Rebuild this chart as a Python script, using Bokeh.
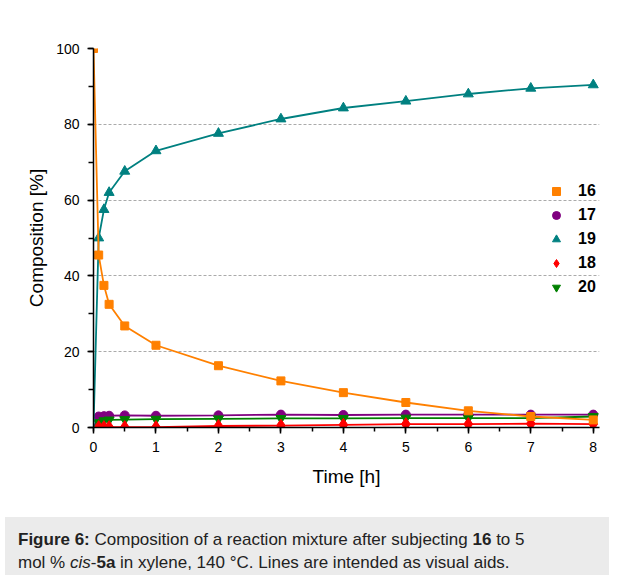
from bokeh.plotting import figure
from bokeh.models import (Range1d, SingleIntervalTicker, Legend, LegendItem, Div, Spacer,
                          ColumnDataSource)
from bokeh.layouts import column
from bokeh.embed import file_html
from bokeh.resources import INLINE

# ---- data ----
time_h = [0, 0.083, 0.167, 0.25, 0.5, 1, 2, 3, 4, 5, 6, 7, 8]
comp_16 = [100, 45.5, 37.5, 32.5, 26.8, 21.7, 16.3, 12.3, 9.2, 6.6, 4.4, 2.9, 2.0]
comp_17 = [0, 2.9, 3.0, 3.1, 3.2, 3.1, 3.2, 3.4, 3.3, 3.4, 3.4, 3.4, 3.4]
comp_19 = [0, 50.0, 57.5, 62.0, 67.6, 73.0, 77.6, 81.4, 84.3, 86.1, 88.0, 89.5, 90.4]
comp_18 = [0, 0.1, 0.1, 0.1, 0.1, 0.1, 0.4, 0.5, 0.7, 0.9, 0.9, 1.0, 0.9]
comp_20 = [0, 1.3, 1.8, 2.0, 2.1, 2.2, 2.3, 2.4, 2.4, 2.5, 2.5, 2.5, 2.9]
series_names = ["16", "17", "19", "18", "20"]
x_label = "Time [h]"
y_label = "Composition [%]"

FONT = "Liberation Sans"

p = figure(output_backend="svg", toolbar_location=None,
           width=604, height=504,
           min_border_left=93, min_border_right=5, min_border_top=40, min_border_bottom=85,
           x_range=Range1d(0, 8.1), y_range=Range1d(0, 100))
p.outline_line_color = None
p.background_fill_color = "white"
p.border_fill_color = "white"

p.xgrid.visible = False
p.ygrid.grid_line_color = "#aaaaaa"
p.ygrid.grid_line_dash = "3 2"
p.ygrid.grid_line_width = 1

p.xaxis.ticker = SingleIntervalTicker(interval=1, num_minor_ticks=2)
p.yaxis.ticker = SingleIntervalTicker(interval=20, num_minor_ticks=2)
for ax in (p.xaxis[0], p.yaxis[0]):
    ax.axis_line_color = "black"
    ax.axis_line_width = 1.5
    ax.major_tick_line_color = "black"
    ax.major_tick_line_width = 1.5
    ax.minor_tick_line_color = "black"
    ax.minor_tick_line_width = 1.5
    ax.major_tick_in = 0
    ax.minor_tick_in = 0
    ax.major_label_text_font = FONT
    ax.major_label_text_font_size = "14px"
    ax.major_label_text_color = "black"
    ax.axis_label_text_font = FONT
    ax.axis_label_text_font_size = "19px"
    ax.axis_label_text_font_style = "normal"
    ax.axis_label_text_color = "black"
p.xaxis.major_tick_out = 6
p.xaxis.minor_tick_out = 4
p.yaxis.major_tick_out = 6
p.yaxis.minor_tick_out = 5
p.xaxis.axis_label = x_label
p.yaxis.axis_label = y_label
p.xaxis.major_label_standoff = 8
p.yaxis.major_label_standoff = 8
p.xaxis.axis_label_standoff = 11
p.yaxis.axis_label_standoff = 6

LW = 1.8
# name: (values, colour, marker, size, first index with marker)
specs = {
    "16": (comp_16, "#ff8000", "square", 8, 0),
    "17": (comp_17, "#800080", "circle", 9, 1),
    "19": (comp_19, "#008080", "triangle", 10, 1),
    "18": (comp_18, "#ff0000", "diamond", 13, 1),
    "20": (comp_20, "#008000", "inverted_triangle", 10, 1),
}
draw_order = ["17", "20", "18", "19", "16"]
marker_r = {}
for name in draw_order:
    vals, col, mk, sz, start = specs[name]
    p.line(time_h, vals, line_color=col, line_width=LW)
    src = ColumnDataSource(dict(x=time_h[start:], y=vals[start:]))
    marker_r[name] = p.scatter("x", "y", source=src, marker=mk, size=sz,
                               fill_color=col, line_color=col)

legend = Legend(items=[LegendItem(label=n, renderers=[marker_r[n]]) for n in series_names],
                location=(453, 130), padding=0, margin=0, spacing=4,
                glyph_width=20, glyph_height=20, label_height=20,
                label_standoff=12, border_line_color=None,
                background_fill_alpha=0,
                label_text_font=FONT, label_text_font_size="16px",
                label_text_font_style="bold", label_text_color="black")
p.add_layout(legend, "center")

caption = Div(text=("<b>Figure 6:</b> Composition of a reaction mixture after subjecting "
                    "<b>16</b> to 5<br>mol % <i>cis</i>-<b>5a</b> in xylene, 140 °C. "
                    "Lines are intended as visual aids."),
              width=604, height=58,
              styles={"background-color": "#ebebeb", "font-family": FONT,
                      "font-size": "17px", "line-height": "23px", "color": "#222",
                      "padding": "11px 0 0 13px", "box-sizing": "border-box"})

layout = column(Spacer(width=604, height=8), p, caption, spacing=0)
open("out.html", "w").write(file_html(layout, INLINE))
